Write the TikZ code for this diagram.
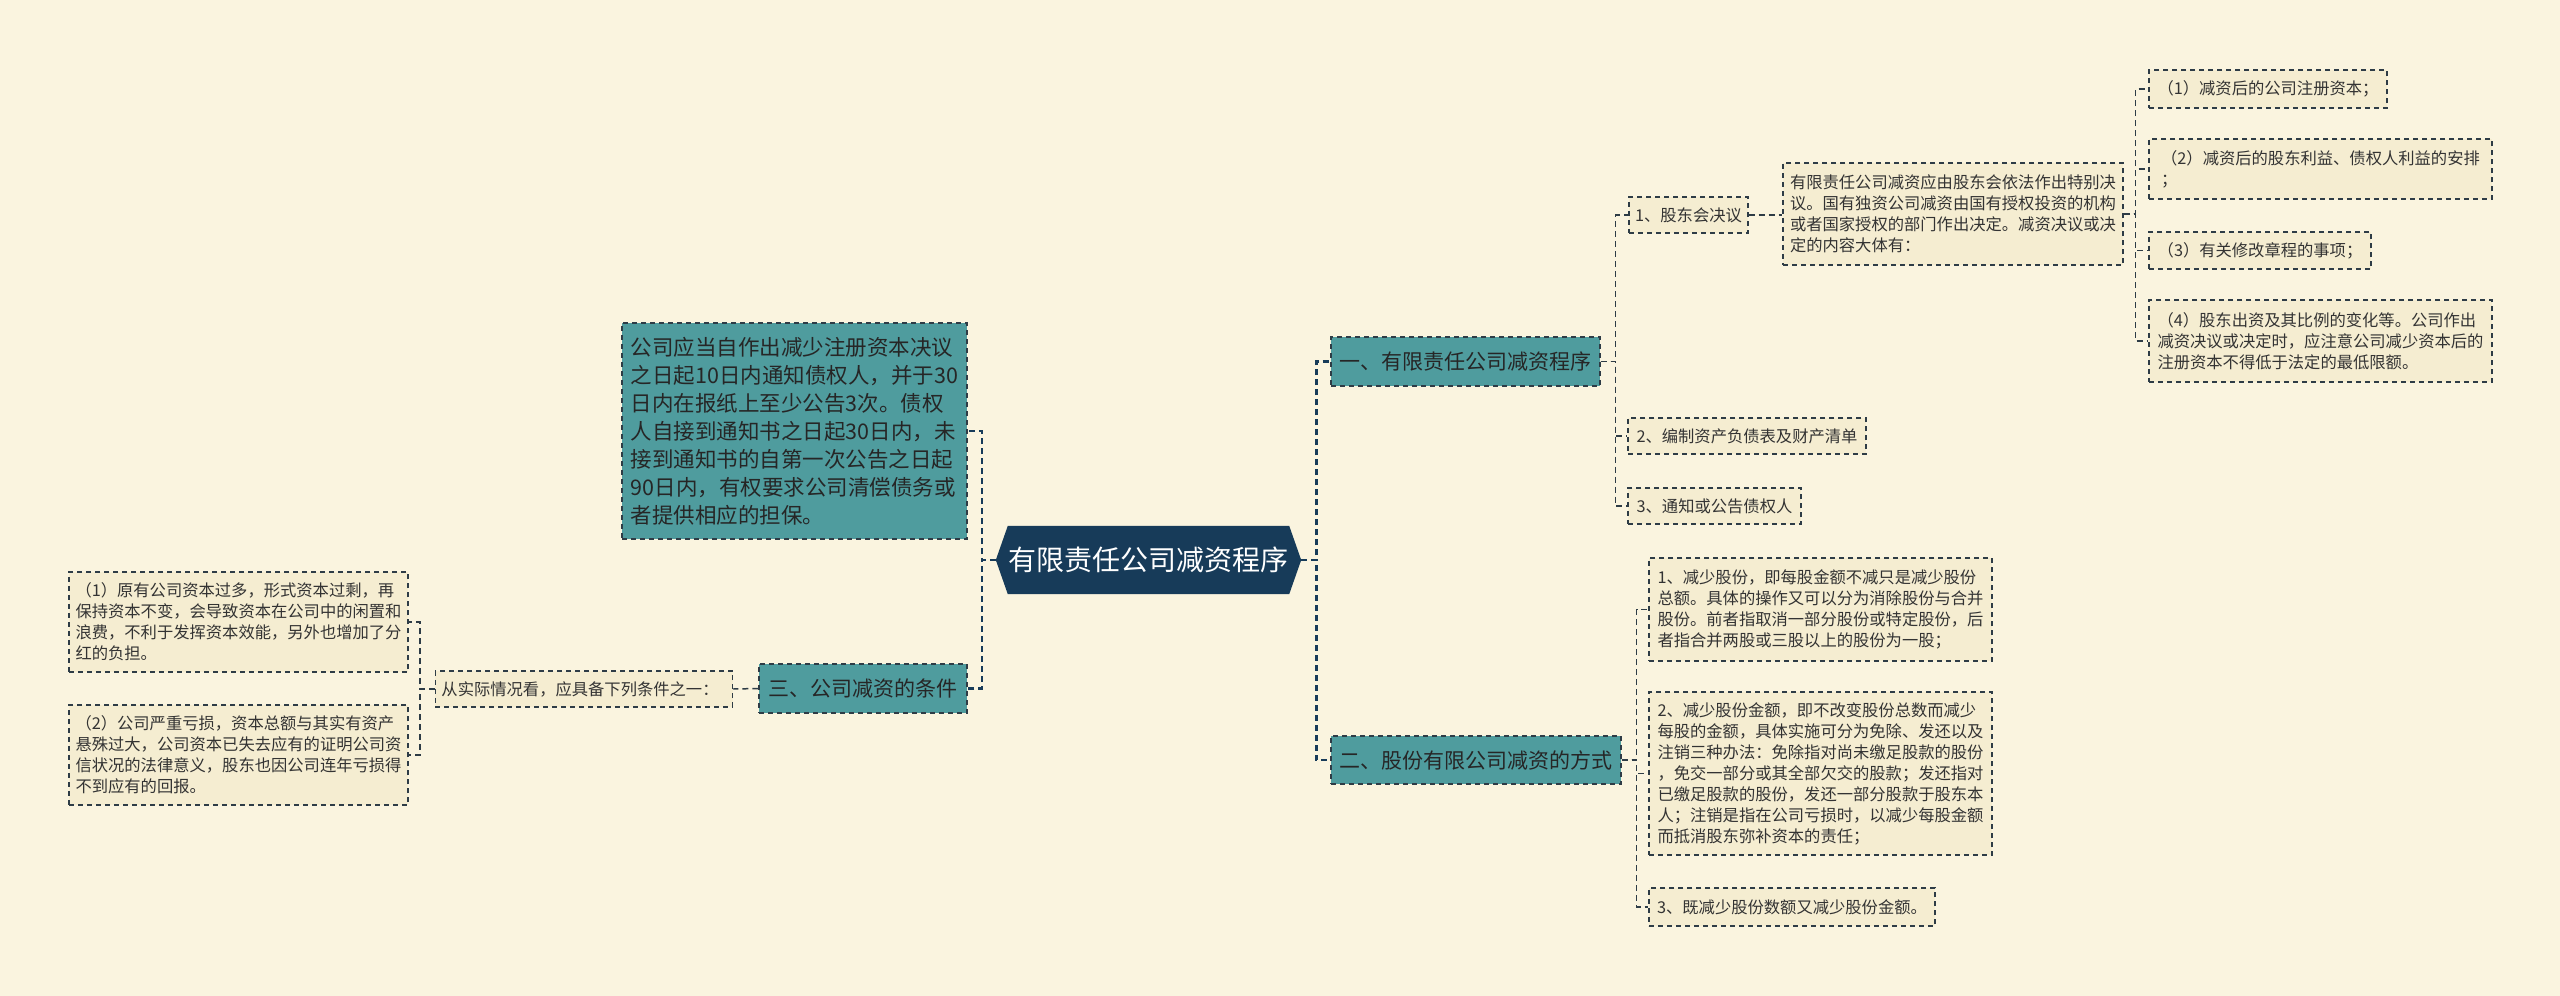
\documentclass[tikz,border=0pt]{standalone}
\usepackage{fontspec}
\setmainfont{Noto Sans CJK SC}
\usetikzlibrary{backgrounds}
\definecolor{bgc}{HTML}{FAF4DF}
\definecolor{leafc}{HTML}{F5EDD1}
\definecolor{tealc}{HTML}{4F9C9E}
\definecolor{navyc}{HTML}{173B59}
\definecolor{edgec}{HTML}{2E3C46}
\definecolor{txtc}{HTML}{333333}
\tikzset{
  leafbox/.style={draw=edgec, line width=1.4pt, dash pattern=on 5pt off 4pt, fill=leafc,
    font=\fontsize{16.3}{21}\selectfont, text=txtc, align=left, inner xsep=6pt, inner ysep=4pt},
  tealbox/.style={draw=edgec, line width=1.4pt, dash pattern=on 5pt off 4pt, fill=tealc,
    text=black!85, align=left, inner xsep=6pt, inner ysep=4pt},
  midfont/.style={font=\fontsize{21}{26}\selectfont},
  bigfont/.style={font=\fontsize{21.5}{28}\selectfont},
  centralbox/.style={text=white, font=\fontsize{28}{34}\selectfont, inner sep=0pt},
  mainconn/.style={draw=navyc, line width=2.6pt, dash pattern=on 6pt off 4pt},
  subconn/.style={draw=edgec, line width=1.5pt, dash pattern=on 6pt off 4pt},
}
\begin{document}
\begin{tikzpicture}[x=1pt,y=-1pt]
\useasboundingbox (0,0) rectangle (2560,996);
% central
\node[centralbox, minimum width=305pt, minimum height=68pt] (c) at (1148.5,560) {有限责任公司减资程序};
\begin{scope}[on background layer]
\fill[bgc] (0,0) rectangle (2560,996);
\fill[navyc] ([xshift=12pt]c.north west) -- ([xshift=-12pt]c.north east) -- (c.east)
  -- ([xshift=-12pt]c.south east) -- ([xshift=12pt]c.south west) -- (c.west) -- cycle;
\end{scope}

% left branch
\node[tealbox, bigfont, minimum width=345pt, minimum height=216pt] (L1) at (794.5,431) {公司应当自作出减少注册资本决议\\之日起10日内通知债权人，并于30\\日内在报纸上至少公告3次。债权\\人自接到通知书之日起30日内，未\\接到通知书的自第一次公告之日起\\90日内，有权要求公司清偿债务或\\者提供相应的担保。};
\node[tealbox, midfont, minimum width=208pt, minimum height=49pt, align=center] (L3) at (863,688.5) {三、公司减资的条件};
\node[leafbox, minimum width=294pt, minimum height=36pt] (L3a) at (584,689) {从实际情况看，应具备下列条件之一：\hspace{8pt}};
\node[leafbox, minimum width=339pt, minimum height=100pt] (L3a1) at (238.5,622) {（1）原有公司资本过多，形式资本过剩，再\\保持资本不变，会导致资本在公司中的闲置和\\浪费，不利于发挥资本效能，另外也增加了分\\红的负担。};
\node[leafbox, minimum width=339pt, minimum height=100pt] (L3a2) at (238.5,755) {（2）公司严重亏损，资本总额与其实有资产\\悬殊过大，公司资本已失去应有的证明公司资\\信状况的法律意义，股东也因公司连年亏损得\\不到应有的回报。};

% right branch 1
\node[tealbox, midfont, minimum width=269pt, minimum height=49pt, align=center] (R1) at (1465.5,361.5) {一、有限责任公司减资程序};
\node[leafbox, minimum width=118pt, minimum height=36pt] (R1a) at (1688.5,215) {1、股东会决议};
\node[leafbox, minimum width=340pt, minimum height=102pt] (R1ax) at (1953,214) {有限责任公司减资应由股东会依法作出特别决\\议。国有独资公司减资由国有授权投资的机构\\或者国家授权的部门作出决定。减资决议或决\\定的内容大体有：};
\node[leafbox, minimum width=238pt, minimum height=38pt] (K1) at (2268,89) {（1）减资后的公司注册资本；};
\node[leafbox, minimum width=343pt, minimum height=60pt] (K2) at (2320.5,169) {（2）减资后的股东利益、债权人利益的安排\\；};
\node[leafbox, minimum width=222pt, minimum height=37pt] (K3) at (2260,250.5) {（3）有关修改章程的事项；};
\node[leafbox, minimum width=343pt, minimum height=82pt] (K4) at (2320.5,341) {（4）股东出资及其比例的变化等。公司作出\\减资决议或决定时，应注意公司减少资本后的\\注册资本不得低于法定的最低限额。};
\node[leafbox, minimum width=238pt, minimum height=36pt] (R1b) at (1747,436) {2、编制资产负债表及财产清单};
\node[leafbox, minimum width=173pt, minimum height=36pt] (R1c) at (1714.5,506) {3、通知或公告债权人};

% right branch 2
\node[tealbox, midfont, minimum width=290pt, minimum height=48pt, align=center] (R2) at (1476,760) {二、股份有限公司减资的方式};
\node[leafbox, minimum width=343pt, minimum height=103pt] (R2a) at (1820.5,609.5) {1、减少股份，即每股金额不减只是减少股份\\总额。具体的操作又可以分为消除股份与合并\\股份。前者指取消一部分股份或特定股份，后\\者指合并两股或三股以上的股份为一股；};
\node[leafbox, minimum width=343pt, minimum height=163pt] (R2b) at (1820.5,773.5) {2、减少股份金额，即不改变股份总数而减少\\每股的金额，具体实施可分为免除、发还以及\\注销三种办法：免除指对尚未缴足股款的股份\\，免交一部分或其全部欠交的股款；发还指对\\已缴足股款的股份，发还一部分股款于股东本\\人；注销是指在公司亏损时，以减少每股金额\\而抵消股东弥补资本的责任；};
\node[leafbox, minimum width=286pt, minimum height=38pt] (R2c) at (1792,907) {3、既减少股份数额又减少股份金额。};

% connectors
\draw[mainconn] (c.west) -- ++(-14,0) |- (L1.east);
\draw[mainconn] (c.west) -- ++(-14,0) |- (L3.east);
\draw[mainconn] (c.east) -- ++(15,0) |- (R1.west);
\draw[mainconn] (c.east) -- ++(15,0) |- (R2.west);

\draw[subconn] (L3.west) -- (L3a.east);
\draw[subconn] (L3a.west) -- ++(-15,0) |- (L3a1.east);
\draw[subconn] (L3a.west) -- ++(-15,0) |- (L3a2.east);

\draw[subconn] (R1.east) -- ++(15,0) |- (R1a.west);
\draw[subconn] (R1.east) -- ++(15,0) |- (R1b.west);
\draw[subconn] (R1.east) -- ++(15,0) |- (R1c.west);
\draw[subconn] (R1a.east) -- (R1a.east -| R1ax.west);
\draw[subconn] (R1ax.east) -- ++(12,0) |- (K1.west);
\draw[subconn] (R1ax.east) -- ++(12,0) |- (K2.west);
\draw[subconn] (R1ax.east) -- ++(12,0) |- (K3.west);
\draw[subconn] (R1ax.east) -- ++(12,0) |- (K4.west);

\draw[subconn] (R2.east) -- ++(15,0) |- (R2a.west);
\draw[subconn] (R2.east) -- ++(15,0) |- (R2b.west);
\draw[subconn] (R2.east) -- ++(15,0) |- (R2c.west);
\end{tikzpicture}
\end{document}
